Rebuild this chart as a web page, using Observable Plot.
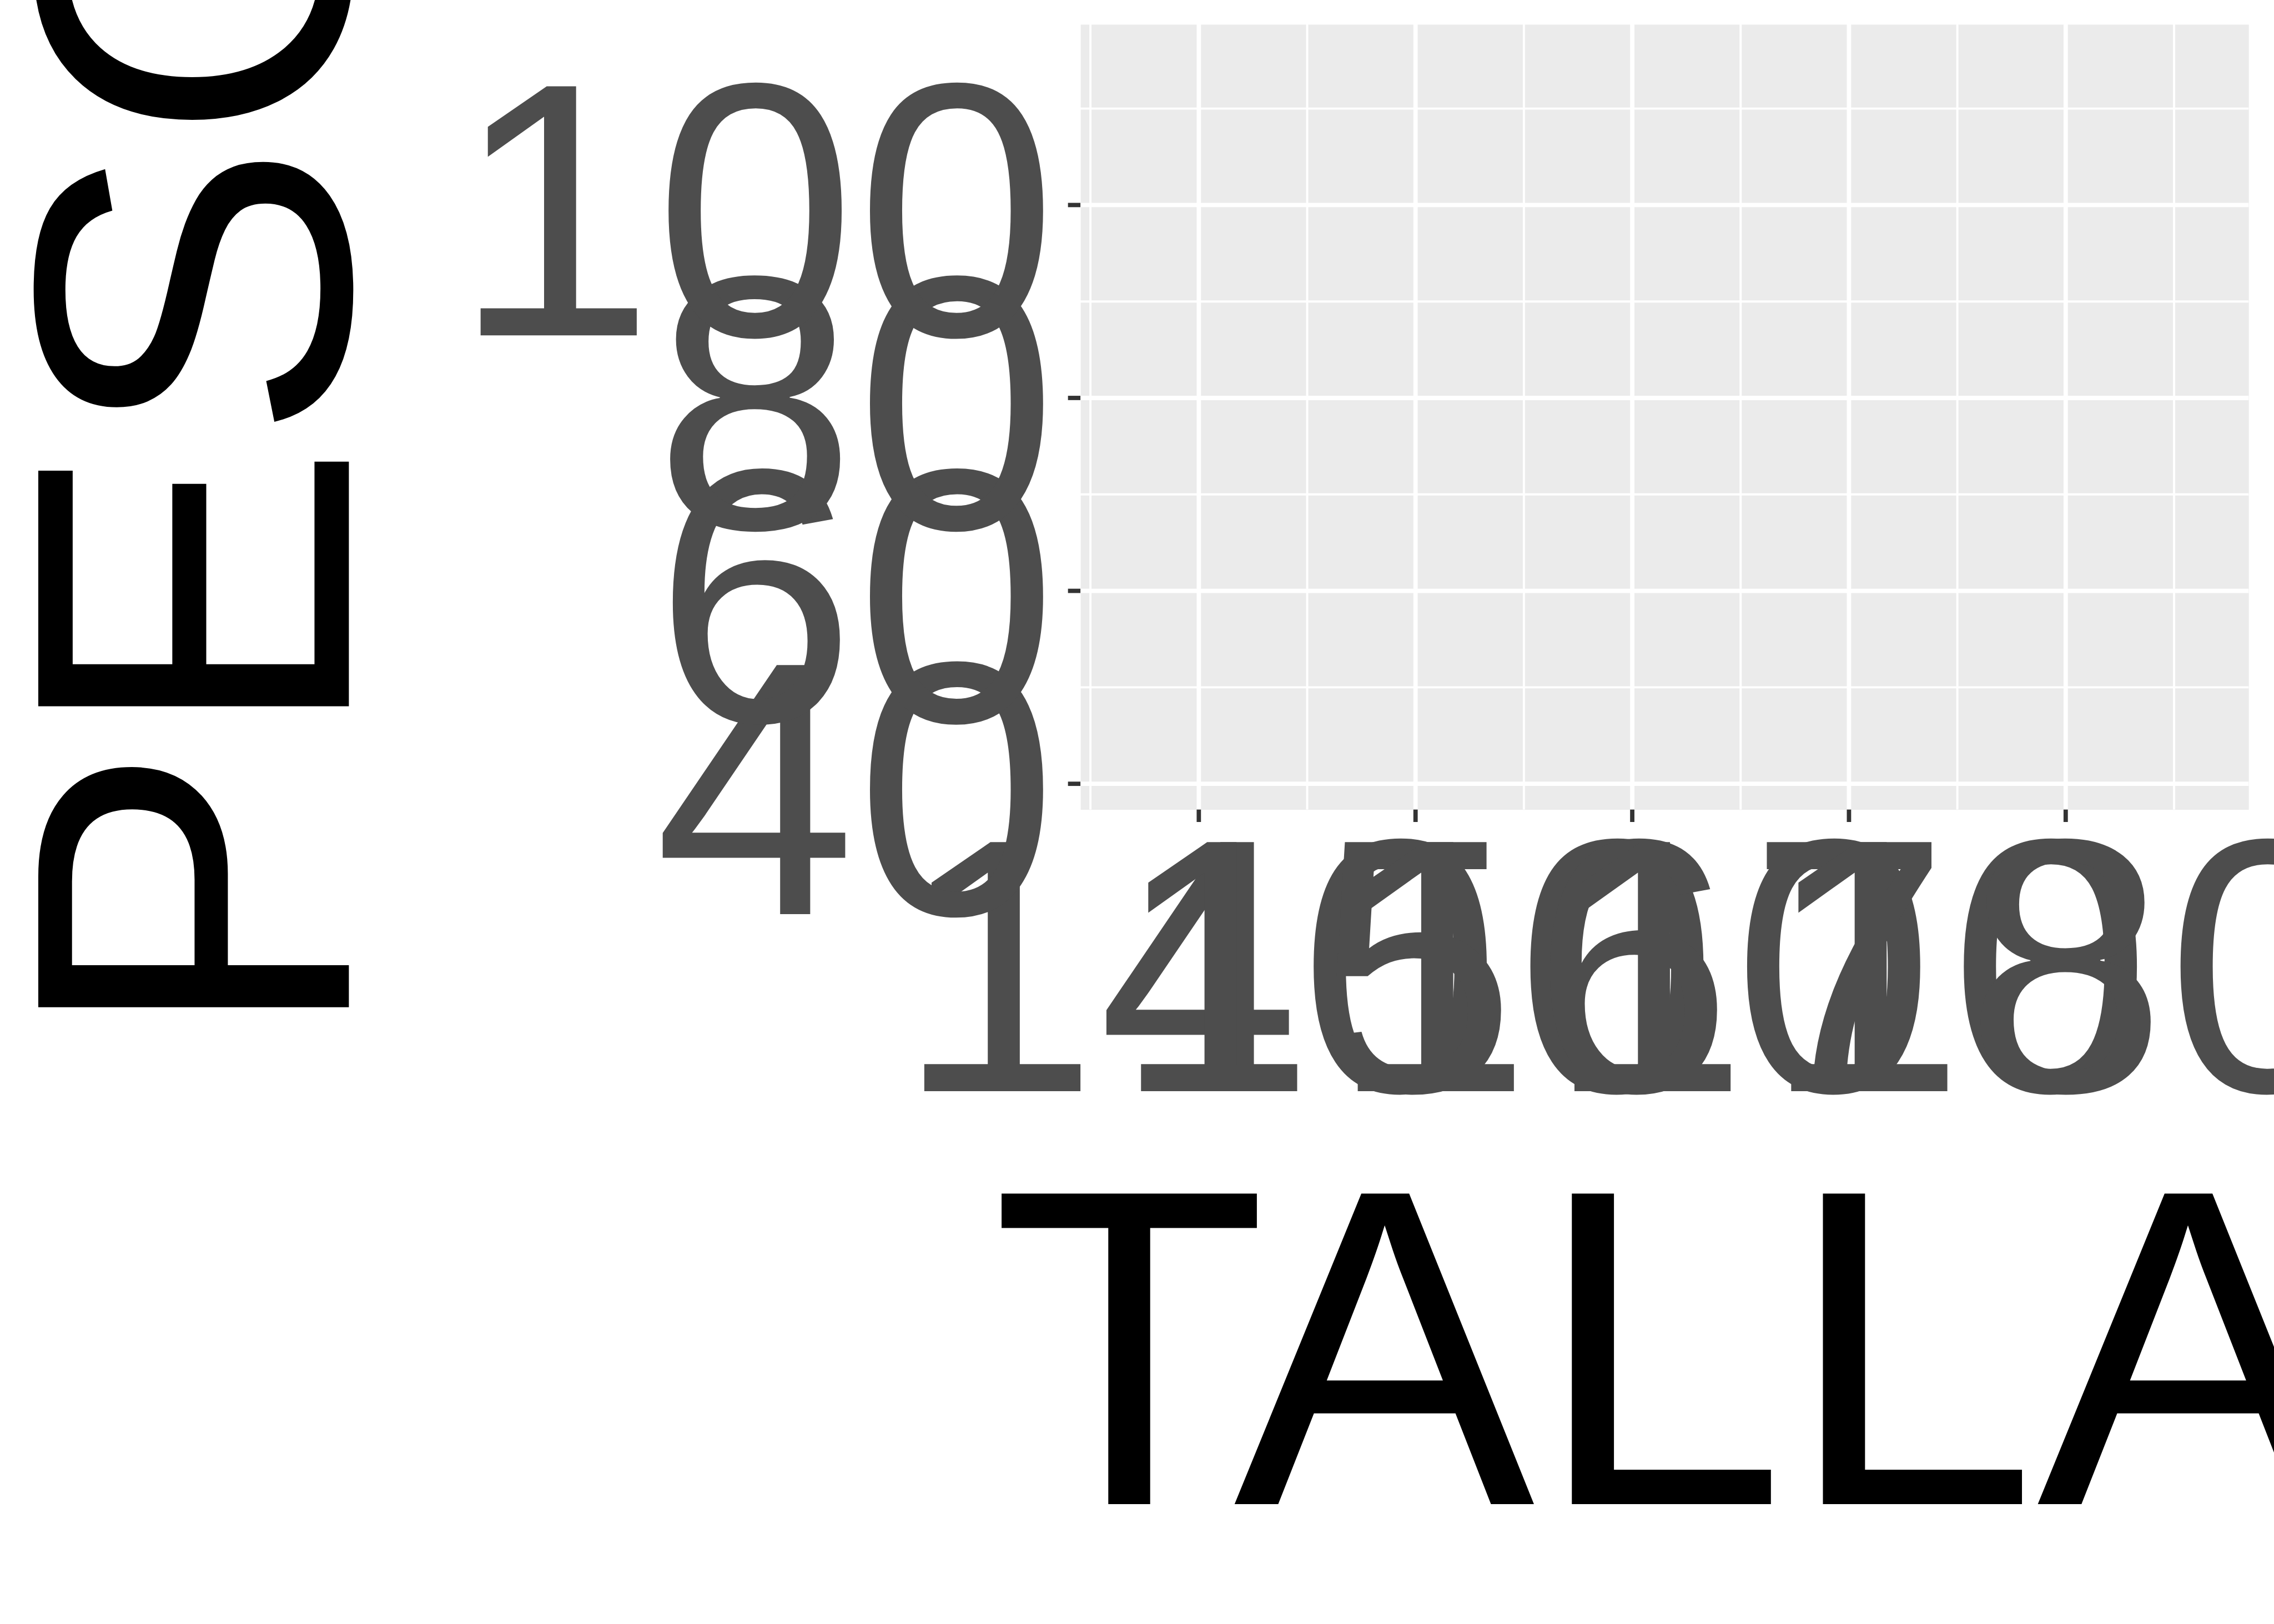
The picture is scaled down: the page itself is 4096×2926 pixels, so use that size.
<!DOCTYPE html>
<html>
<head>
<meta charset="utf-8">
<script src="https://cdn.jsdelivr.net/npm/d3@7"></script>
<script src="https://cdn.jsdelivr.net/npm/@observablehq/plot@0.6"></script>
<style>
  html, body { margin: 0; padding: 0; background: #ffffff; overflow: hidden; }
  #chart svg { display: block; max-width: none; overflow: hidden; }
  #chart svg, #chart svg text { font-family: "Liberation Sans", Arial, Helvetica, sans-serif; }
</style>
</head>
<body>
<div id="chart"></div>
<script>
// ---- data ----
const tallaRange = [137, 186];          // extent of TALLA values
const pesoRange = [41, 115];            // extent of PESO values
const tallaTicks = [140, 150, 160, 170, 180];
const tallaMinor = [135, 145, 155, 165, 175, 185];
const pesoTicks = [40, 60, 80, 100];
const pesoMinor = [50, 70, 90, 110];
const xTitle = "TALLA";
const yTitle = "PESO";

// ---- layout ----
const S = 0.975;
const W = 4096, H = 2926;
const FONT = "Liberation Sans, Arial, sans-serif";
const expand = ([a, b]) => { const d = (b - a) * 0.05; return [a - d, b + d]; };

const marginLeft = 1996 * S;
const marginRight = W - 4154 * S;
const marginTop = 45 * S;
const marginBottom = H - 1496 * S;

const tickFont = 669 * S;
const titleFont = 834 * S;
const tickLen = 23 * S;
const tickW = 8 * S;
const majorW = 8 * S;
const minorW = 4 * S;

const chart = Plot.plot({
  width: W,
  height: H,
  marginLeft, marginRight, marginTop, marginBottom,
  style: { background: "#ffffff", overflow: "hidden", maxWidth: "none", fontFamily: FONT },
  x: { domain: expand(tallaRange), label: null },
  y: { domain: expand(pesoRange), label: null },
  marks: [
    Plot.frame({ fill: "#EBEBEB", stroke: null }),
    Plot.gridX(tallaMinor, { stroke: "#ffffff", strokeOpacity: 1, strokeWidth: minorW }),
    Plot.gridY(pesoMinor, { stroke: "#ffffff", strokeOpacity: 1, strokeWidth: minorW }),
    Plot.gridX(tallaTicks, { stroke: "#ffffff", strokeOpacity: 1, strokeWidth: majorW }),
    Plot.gridY(pesoTicks, { stroke: "#ffffff", strokeOpacity: 1, strokeWidth: majorW }),
    Plot.axisX({
      ticks: tallaTicks, tickFormat: d => String(d), label: null,
      tickSize: tickLen, tickPadding: 22 * S, fontSize: tickFont, fontFamily: FONT,
      stroke: "#333333", strokeWidth: tickW, fill: "#4D4D4D"
    }),
    // y tick marks
    Plot.axisY({
      ticks: pesoTicks, tickFormat: () => "", label: null,
      tickSize: tickLen, tickPadding: 0, fontSize: tickFont, fontFamily: FONT,
      stroke: "#333333", strokeWidth: tickW, fill: "#4D4D4D"
    }),
    // y tick labels (vertically centred on the cap height)
    Plot.axisY({
      ticks: pesoTicks, tickFormat: d => String(d), label: null,
      tickSize: 0, tickPadding: (23 + 20.4) * S, fontSize: tickFont, fontFamily: FONT,
      stroke: null, fill: "#4D4D4D",
      dy: 0.04 * tickFont
    }),
    Plot.text([xTitle], {
      text: d => d, frameAnchor: "bottom", textAnchor: "middle", lineAnchor: "bottom",
      dy: 2779 * S - 1496 * S, fontSize: titleFont, fontFamily: FONT, fill: "#000000"
    }),
    Plot.text([yTitle], {
      text: d => d, frameAnchor: "left", textAnchor: "middle", lineAnchor: "bottom",
      rotate: -90, dx: 644 * S - marginLeft, fontSize: titleFont, fontFamily: FONT, fill: "#000000"
    })
  ]
});
document.getElementById("chart").appendChild(chart);
</script>
</body>
</html>
